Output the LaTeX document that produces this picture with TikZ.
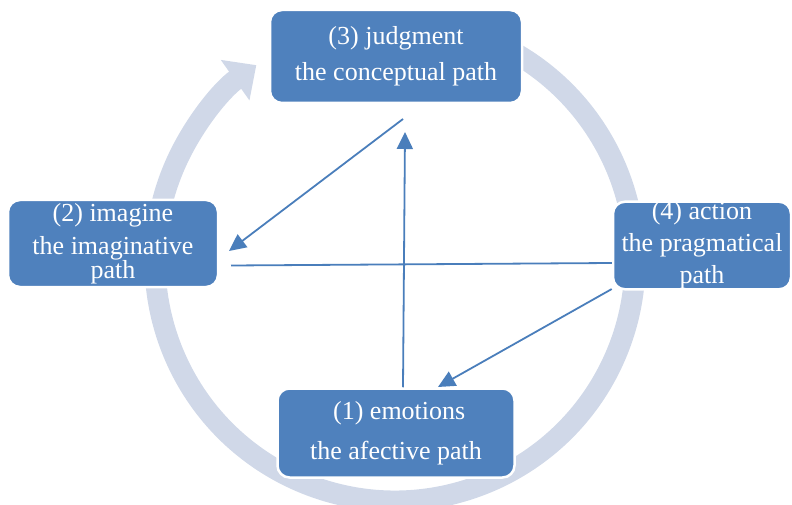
\documentclass[tikz,border=0pt]{standalone}
\usepackage{fontspec}
\setmainfont{Liberation Serif}
\usetikzlibrary{arrows.meta}
\definecolor{boxblue}{HTML}{4F81BD}
\definecolor{ringgray}{HTML}{D0D8E8}
\definecolor{linkblue}{HTML}{4A7EBB}
\tikzset{
  pathbox/.style={draw=white, line width=2.5pt, fill=boxblue, rounded corners=12pt,
    text=white, align=center, inner sep=0pt},
  link/.style={draw=linkblue, line width=1.8pt, -{Triangle[length=17pt,width=16pt]}},
  plainlink/.style={draw=linkblue, line width=1.8pt},
  cycle/.style={draw=ringgray, line width=21pt, -{Triangle[length=26pt,width=48pt]}}
}
\begin{document}
\begin{tikzpicture}[x=1pt,y=1pt]
\useasboundingbox (0,0) rectangle (792,504);

% big cycle behind the boxes
\draw[cycle] (395,243) ++(65:240) arc[start angle=65, end angle=-234.7, radius=240];

% the four paths
\node[pathbox, minimum width=237pt, minimum height=89pt, font=\fontsize{26}{40}\selectfont]
  (emot) at (396,71) {\ (1) emotions\\the afective path};
\node[pathbox, minimum width=210pt, minimum height=87pt, font=\fontsize{26}{33}\selectfont]
  (imag) at (113,260.5) {(2) imagine\\the imaginative\\[-9pt]path};
\node[pathbox, minimum width=252pt, minimum height=93pt, font=\fontsize{26}{36}\selectfont]
  (judg) at (396,447.5) {(3) judgment\\the conceptual path};
\node[pathbox, minimum width=178pt, minimum height=86pt, font=\fontsize{26}{32}\selectfont]
  (act) at (702,258.5) {(4) action\\the pragmatical\\path};

% free ends of the links
\coordinate (judgIn) at (405,372);
\coordinate (judgOut) at (403,385);
\coordinate (imagIn) at (229,253);
\coordinate (imagEnd) at (231,238.5);
\coordinate (emotIn) at (438,117);

\draw[link] ([xshift=7pt]emot.north) -- (judgIn);
\draw[link] (judgOut) -- (imagIn);
\draw[plainlink] ([yshift=-17.5pt]act.west) -- (imagEnd);
\draw[link] ([yshift=1.5pt]act.south west) -- (emotIn);
\end{tikzpicture}
\end{document}
